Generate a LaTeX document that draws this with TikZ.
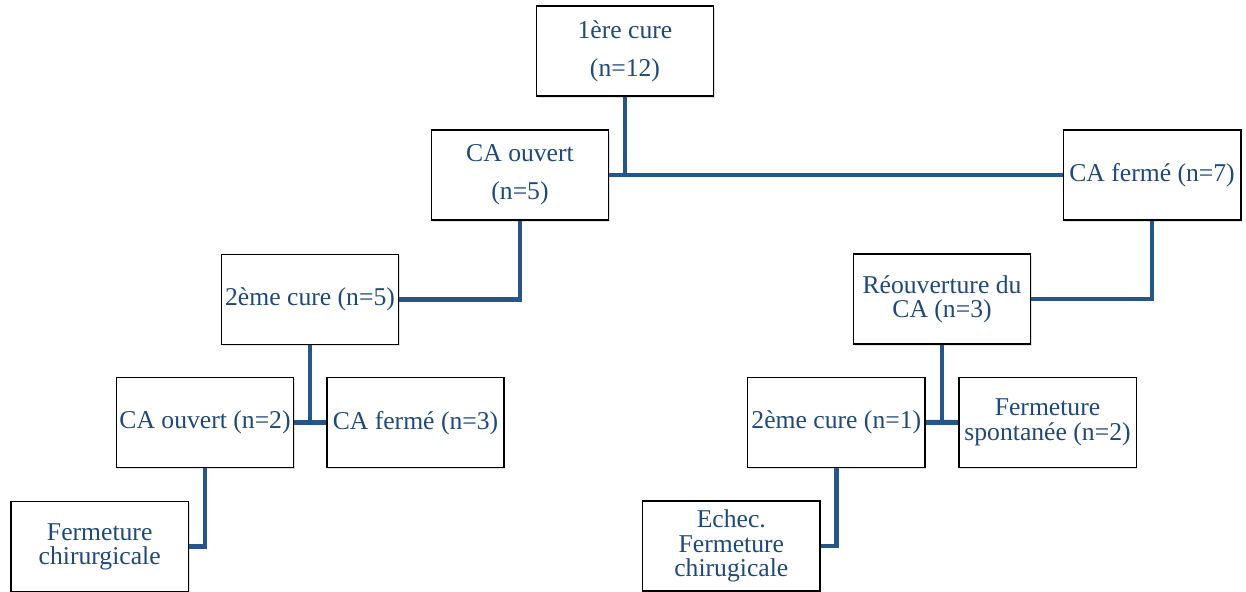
\documentclass[tikz,border=0pt]{standalone}
\usepackage{fontspec}
\setmainfont{Liberation Serif}
\usepackage{tikz}
\usetikzlibrary{shadows}

\definecolor{textblue}{RGB}{31,73,125}
\definecolor{linkblue}{RGB}{38,86,137}

\tikzset{
  box/.style={rectangle, draw=black, line width=0.85pt, fill=white,
    minimum width=3.55cm, minimum height=1.8cm, inner sep=1pt,
    align=center, text=textblue, font=\fontsize{14.6}{13.8}\selectfont,
    drop shadow={shadow xshift=0.7pt, shadow yshift=-1pt, opacity=0.25}},
  topbox/.style={box, font=\fontsize{14.6}{21.5}\selectfont},
  link/.style={draw=linkblue, line width=2.8pt},
}

\begin{document}
\begin{tikzpicture}[x=0.02cm, y=-0.02cm]
                        \useasboundingbox (0,0) rectangle (1246,591);

                        \foreach \k/\i/\j/\t in {cure1/625/51/{1ère cure\\(n=12)}, cao/520/175/{CA ouvert\\(n=5)}} {
                            \node (\k) at (\i, \j) [topbox] {\t};
                        }

                        \foreach \k/\i/\j/\t in {caf/1152/175/{CA fermé (n=7)}, cure2a/310/299.5/{2ème cure (n=5)}, reouv/942/299/{Réouverture du\\CA (n=3)}, cao2/205/422.7/{CA ouvert (n=2)}, caf3/415.5/422.7/{CA fermé (n=3)}, cure2b/836.3/422.5/{2ème cure (n=1)}, spont/1047.5/422.3/{Fermeture\\spontanée (n=2)}, ferm/99.7/546.7/{Fermeture\\chirurgicale}, echec/731.3/546/{Echec.\\Fermeture\\chirugicale}} {
                            \node (\k) at (\i, \j) [box] {\t};
                        }

                        \draw[link] (cao) -- (caf);
                        \draw[link] (cure1) -- (cure1.south |- cao.east);
                        \draw[link] (cure2a) -| (cao);
                        \draw[link] (reouv) -| (caf);
                        \draw[link] (cao2) -- (caf3);
                        \draw[link] (cure2a) -- (cure2a.south |- cao2.east);
                        \draw[link] (cao2) |- (ferm);
                        \draw[link] (cure2b) -- (spont);
                        \draw[link] (reouv) -- (reouv.south |- cure2b.east);
                        \draw[link] (cure2b) |- (echec);
                    \end{tikzpicture}
\end{document}
